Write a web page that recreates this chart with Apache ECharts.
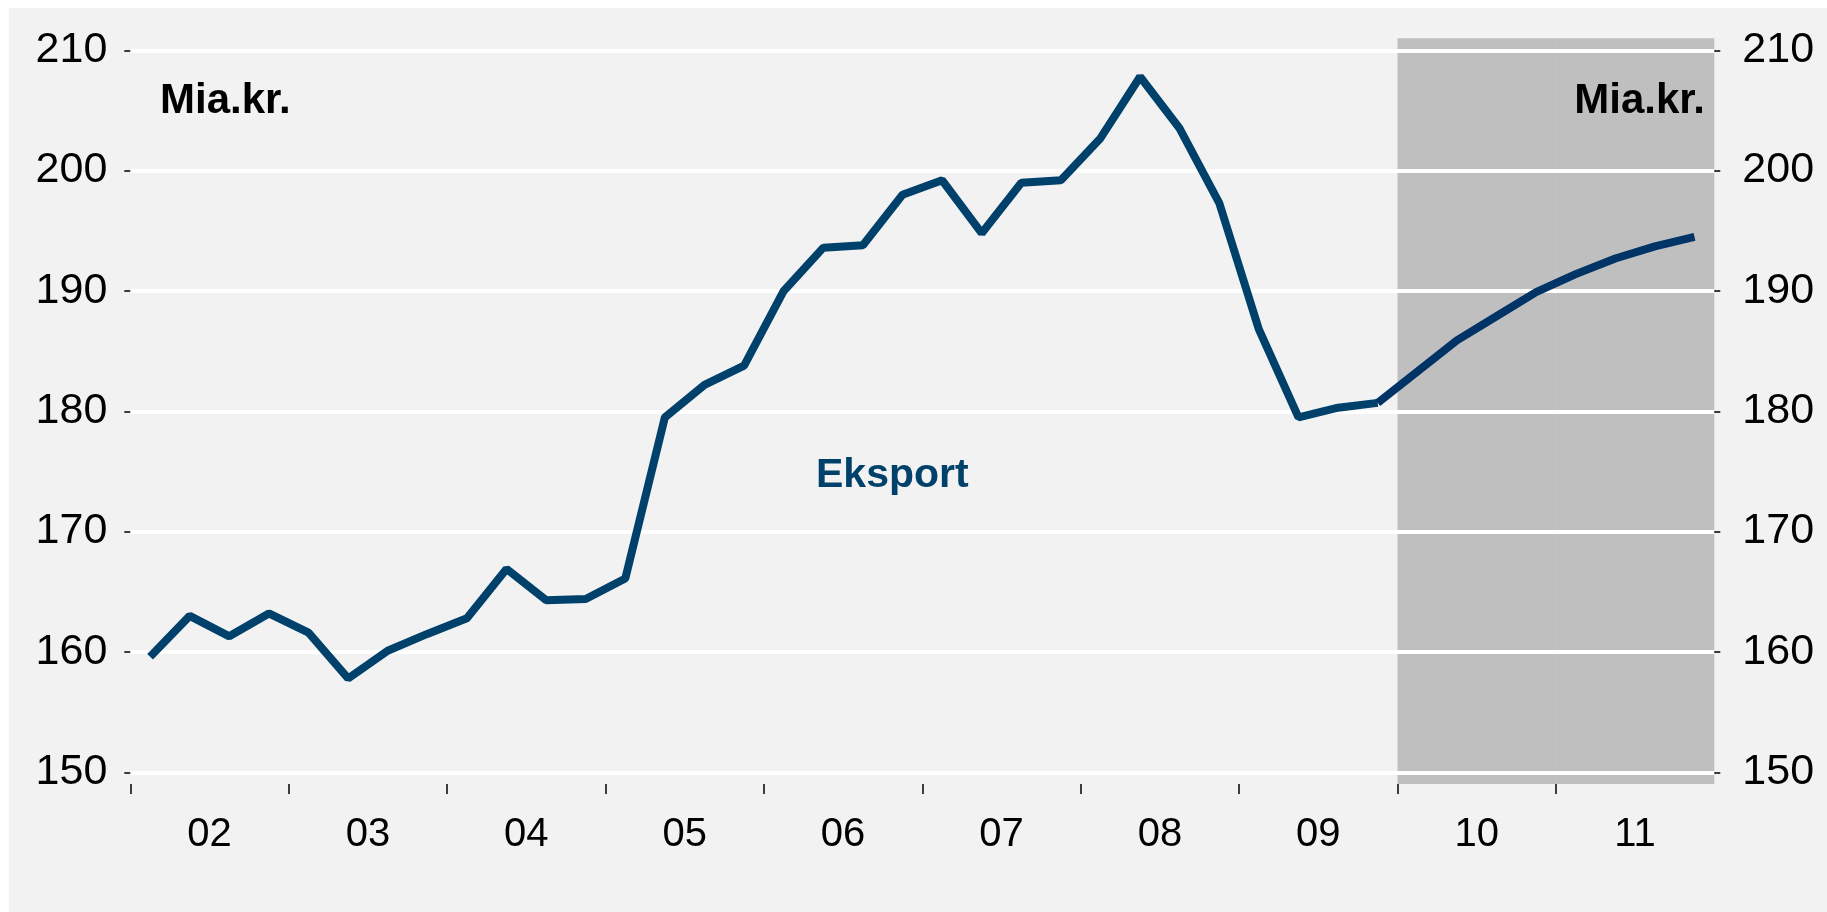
<!DOCTYPE html>
<html>
<head>
<meta charset="utf-8">
<title>Eksport</title>
<script src="https://cdn.jsdelivr.net/npm/echarts@6/dist/echarts.min.js"></script>
<style>
    html, body { margin: 0; padding: 0; background: #ffffff; }
    #chart { position: absolute; left: 9px; top: 8px; width: 1818px; height: 904px; background: #f2f2f2; }
</style>
</head>
<body>
<div id="chart"></div>
<script>
// years on the axis (labels) and quarter categories for the line
const years = ['02', '03', '04', '05', '06', '07', '08', '09', '10', '11'];
const quarterNames = ['K1', 'K2', 'K3', 'K4'];

// Eksport, mia. kr., 2002K1 - 2009K4 (observed)
const history = [
    159.6, 163.0, 161.3, 163.2,
    161.6, 157.8, 160.1, 161.5,
    162.8, 166.9, 164.3, 164.4,
    166.1, 179.5, 182.2, 183.8,
    190.0, 193.6, 193.8, 198.0,
    199.2, 194.8, 199.0, 199.2,
    202.7, 207.8, 203.5, 197.3,
    186.8, 179.5, 180.3, 180.7
];
// 2010K1 - 2011K4 (forecast)
const forecast = [183.3, 185.9, 187.9, 189.9, 191.4, 192.7, 193.7, 194.5];

// forecast years get a grey background
const forecastYears = ['10', '11'];

const yMin = 150;
const yMax = 210;
const yStep = 10;

const FONT = '"Liberation Sans", Arial, sans-serif';

// build category / series tables
const quarters = [];
years.forEach(function (y) {
    quarterNames.forEach(function (q) { quarters.push('20' + y + q); });
});
const histData = quarters.map(function (q, i) { return i < history.length ? history[i] : null; });
const fcData = quarters.map(function (q, i) {
    if (i === history.length - 1) return history[i];
    if (i >= history.length) return forecast[i - history.length];
    return null;
});
const shadeData = years.map(function (y) { return forecastYears.indexOf(y) >= 0 ? 1 : null; });

// year axis as value axis: year i spans [i, i+1]
const yearStarts = years.map(function (y, i) { return i; });
const yearMids = years.map(function (y, i) { return i + 0.5; });

let myChart = echarts.init(document.getElementById('chart'));

const yAxisBase = {
    type: 'value',
    gridIndex: 0,
    min: yMin,
    max: yMax,
    interval: yStep,
    axisLine: { show: false },
    axisTick: { show: true, length: 6, lineStyle: { color: '#000', width: 1.5 } },
    axisLabel: { color: '#000', fontSize: 43, fontFamily: FONT, margin: 23 }
};

myChart.setOption({
    backgroundColor: '#f2f2f2',
    animation: false,
    grid: [
        { left: 121.3, right: 112.7, top: 42.3, bottom: 139.7 },
        { left: 121.3, right: 112.7, top: 30.3, bottom: 128 }
    ],
    xAxis: [
        {
            type: 'category',
            gridIndex: 0,
            data: quarters,
            boundaryGap: true,
            show: false
        },
        {
            type: 'value',
            gridIndex: 1,
            min: 0,
            max: years.length,
            interval: 1,
            axisLine: { show: false },
            axisTick: { show: true, length: 10, customValues: yearStarts, lineStyle: { color: '#000', width: 1.5 } },
            axisLabel: {
                color: '#000', fontSize: 40, fontFamily: FONT, margin: 31,
                customValues: yearMids,
                formatter: function (v) { return years[Math.floor(v)]; }
            },
            splitLine: { show: false }
        },
        {
            // hidden year categories for the grey band
            type: 'category',
            gridIndex: 1,
            data: years,
            boundaryGap: true,
            show: false
        }
    ],
    yAxis: [
        Object.assign({}, yAxisBase, {
            position: 'left',
            splitLine: { show: true, lineStyle: { color: '#ffffff', width: 4 } }
        }),
        Object.assign({}, yAxisBase, {
            position: 'right',
            splitLine: { show: false },
            axisLabel: { color: '#000', fontSize: 43, fontFamily: FONT, margin: 28 }
        }),
        {
            type: 'value',
            gridIndex: 1,
            min: 0,
            max: 1,
            show: false,
            splitLine: { show: false }
        }
    ],
    series: [
        {
            // grey forecast period
            type: 'bar',
            xAxisIndex: 2,
            yAxisIndex: 2,
            data: shadeData,
            barWidth: '100%',
            barCategoryGap: '0%',
            itemStyle: { color: '#bfbfbf' },
            silent: true,
            z: -1
        },
        {
            name: 'Eksport',
            type: 'line',
            xAxisIndex: 0,
            yAxisIndex: 0,
            data: histData,
            showSymbol: false,
            lineStyle: { color: '#00416b', width: 8 },
            z: 3
        },
        {
            name: 'Eksport prognose',
            type: 'line',
            xAxisIndex: 0,
            yAxisIndex: 0,
            data: fcData,
            showSymbol: false,
            lineStyle: { color: '#003366', width: 8 },
            z: 3
        }
    ],
    graphic: [
        {
            type: 'text', left: 151, top: 72,
            style: { text: 'Mia.kr.', font: 'bold 42px ' + FONT, fill: '#000' }
        },
        {
            type: 'text', right: 1827 - 1705, top: 72,
            style: { text: 'Mia.kr.', font: 'bold 42px ' + FONT, fill: '#000' }
        },
        {
            type: 'text', left: 807, top: 447,
            style: { text: 'Eksport', font: 'bold 41px ' + FONT, fill: '#00416b' }
        }
    ]
});
</script>
</body>
</html>
